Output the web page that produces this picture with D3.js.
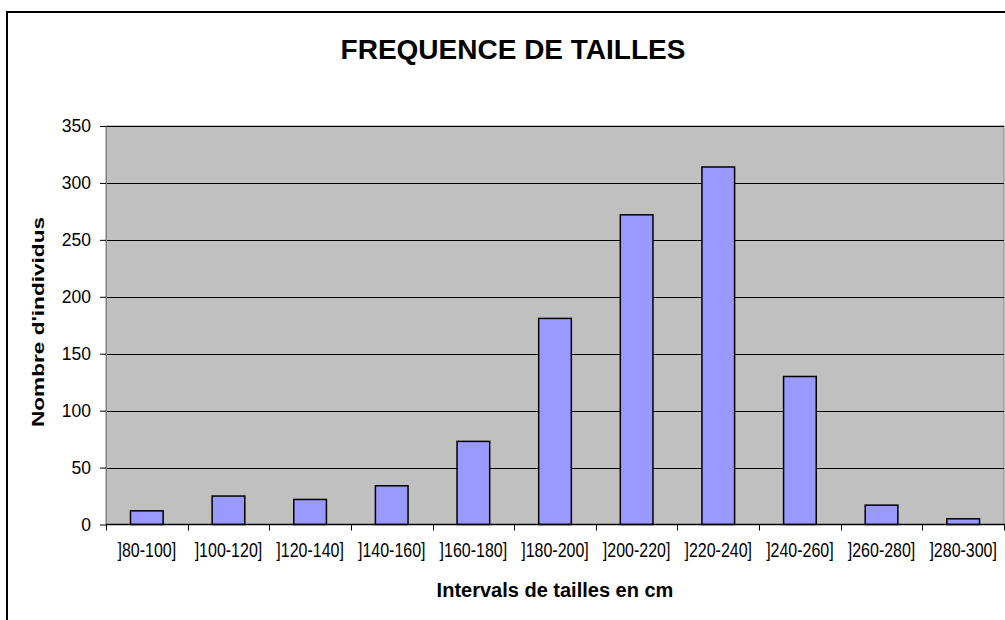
<!DOCTYPE html>
<html><head><meta charset="utf-8">
<script src="https://cdn.jsdelivr.net/npm/d3@7"></script>
<style>
html,body{margin:0;padding:0;background:#fff;}
svg{display:block;font-family:"Liberation Sans",Arial,sans-serif;}
</style></head>
<body><svg id="c" width="1005" height="620"></svg>
<script>
const categories = ["]80-100]","]100-120]","]120-140]","]140-160]","]160-180]","]180-200]","]200-220]","]220-240]","]240-260]","]260-280]","]280-300]"];
const counts = [12, 25, 22, 34, 73, 181, 272, 314, 130, 17, 5];
const yTicks = [0, 50, 100, 150, 200, 250, 300, 350];
const title = "FREQUENCE DE TAILLES";
const xTitle = "Intervals de tailles en cm";
const yTitle = "Nombre d'individus";

const svg = d3.select("#c");
const L = 106, R = 1004, T = 126, B = 524.5;

// outer frame (extends beyond the picture)
svg.append("rect").attr("x", 7).attr("y", 12).attr("width", 1020).attr("height", 640)
  .attr("fill", "#fff").attr("stroke", "#000").attr("stroke-width", 2);

const x = d3.scaleBand().domain(categories).range([L, R]).paddingInner(0.6).paddingOuter(0.3);
const y = d3.scaleLinear().domain([0, 350]).range([B, T]);

// plot background
svg.append("rect").attr("x", L).attr("y", T).attr("width", R - L).attr("height", B - T)
  .attr("fill", "#C0C0C0").attr("stroke", "#808080").attr("stroke-width", 1);

// gridlines
svg.append("g").selectAll("line").data(yTicks.filter(d => d > 0)).join("line")
  .attr("x1", L).attr("x2", R).attr("y1", d => Math.round(y(d)) + 0.5).attr("y2", d => Math.round(y(d)) + 0.5)
  .attr("stroke", "#000").attr("stroke-width", 1);

// bars
svg.append("g").selectAll("rect").data(counts).join("rect")
  .attr("x", (d, i) => x(categories[i]))
  .attr("y", d => y(d))
  .attr("width", x.bandwidth())
  .attr("height", d => B - y(d))
  .attr("fill", "#9999FF").attr("stroke", "#000").attr("stroke-width", 1.5);

// y axis
const ya = svg.append("g").attr("transform", `translate(${L},0)`)
  .call(d3.axisLeft(y).tickValues(yTicks).tickSize(6).tickPadding(9).tickSizeOuter(0));
ya.select(".domain").attr("stroke", "#808080");
ya.selectAll(".tick line").attr("stroke", "#000");
ya.selectAll("text").attr("font-size", 17.5).attr("fill", "#000")
  .attr("font-family", "Liberation Sans, Arial, sans-serif");

// x axis line
svg.append("line").attr("x1", L).attr("x2", R + 1).attr("y1", B).attr("y2", B)
  .attr("stroke", "#000").attr("stroke-width", 1.5);
// boundary ticks
const step = x.step();
const bounds = d3.range(categories.length + 1).map(i => x(categories[0]) - x.paddingOuter() * step + i * step);
svg.append("g").selectAll("line").data(bounds).join("line")
  .attr("x1", d => Math.round(d) + 0.5).attr("x2", d => Math.round(d) + 0.5)
  .attr("y1", B).attr("y2", B + 6).attr("stroke", "#000").attr("stroke-width", 1);

// x tick labels
const xl = svg.append("g").attr("transform", `translate(0,${B})`)
  .call(d3.axisBottom(x).tickSize(0).tickPadding(0));
xl.select(".domain").remove();
xl.selectAll("text").attr("font-size", 16).attr("fill", "#000")
  .attr("font-family", "Liberation Sans, Arial, sans-serif")
  .attr("dy", null).attr("y", 0)
  .attr("transform", "translate(0,32) scale(1,1.22)");

// title
svg.append("text").attr("x", (L + R) / 2 - 42).attr("y", 58.5).attr("text-anchor", "middle")
  .attr("font-size", 28).attr("font-weight", "bold").text(title);

// x title
svg.append("text").attr("transform", `translate(${(L + R) / 2},596.5) scale(1,1)`).attr("text-anchor", "middle")
  .attr("font-size", 20).attr("font-weight", "bold").text(xTitle);

// y title
svg.append("text").attr("transform", `translate(44,322) rotate(-90) scale(1.33,1)`).attr("text-anchor", "middle")
  .attr("font-size", 17).attr("font-weight", "bold").text(yTitle);
</script></body></html>
